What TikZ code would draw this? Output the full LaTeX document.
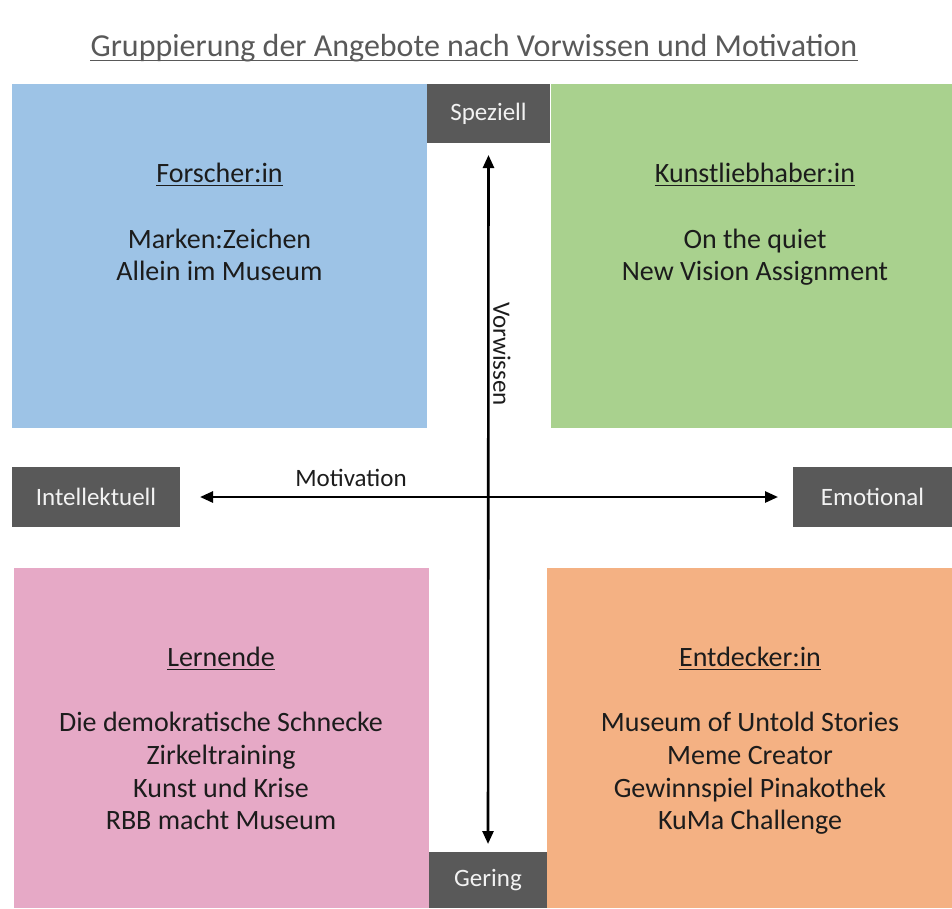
\documentclass[tikz,border=0pt]{standalone}
\usepackage{fontspec}
\setmainfont{Carlito}
\usetikzlibrary{arrows.meta}
\definecolor{qblue}{HTML}{9DC3E6}
\definecolor{qgreen}{HTML}{A9D18E}
\definecolor{qpink}{HTML}{E6A9C6}
\definecolor{qorange}{HTML}{F4B183}
\definecolor{lgray}{HTML}{595959}
\definecolor{ltext}{HTML}{F2F2F2}
\definecolor{btext}{HTML}{1C1C1C}
\begin{document}
\begin{tikzpicture}[x=1pt,y=-1pt,
  quad/.style={draw=none, inner sep=0pt, outer sep=0pt, anchor=north west},
  lab/.style={fill=lgray, text=ltext, font=\fontsize{25}{29}\selectfont, inner sep=0pt, outer sep=0pt, anchor=north west},
  body/.style={font=\fontsize{28}{33}\selectfont, text=btext, anchor=base, inner sep=0pt},
  axislab/.style={font=\fontsize{25}{29}\selectfont, text=btext, inner sep=0pt},
  uline/.style={draw=btext, line width=1.7pt},
  axis/.style={line width=2.6pt, draw=black, {Triangle[length=13pt,width=11pt]}-{Triangle[length=13pt,width=11pt]}}
]
\useasboundingbox (0,0) rectangle (952,908);
% title
\node[font=\fontsize{32}{38}\selectfont, text=lgray, anchor=base, inner sep=0pt] (title) at (474,56) {Gruppierung der Angebote nach Vorwissen und Motivation};
\draw[draw=lgray, line width=1.7pt] ([yshift=-4.5pt]title.base west) -- ([yshift=-4.5pt]title.base east);
% quadrants
\node[quad, fill=qblue, minimum width=415pt, minimum height=344pt] (qf) at (12,84) {};
\node[quad, fill=qgreen, minimum width=401pt, minimum height=344pt] (qk) at (551,84) {};
\node[quad, fill=qpink, minimum width=415pt, minimum height=340pt] (ql) at (14,568) {};
\node[quad, fill=qorange, minimum width=405pt, minimum height=340pt] (qe) at (547,568) {};
% axis labels
\node[lab, minimum width=123pt, minimum height=59pt] (spez) at (427,84) {Speziell};
\node[lab, minimum width=168pt, minimum height=60pt] (intel) at (12,467) {Intellektuell};
\node[lab, minimum width=159pt, minimum height=60pt] (emot) at (793,467) {Emotional};
\node[lab, minimum width=118pt, minimum height=56pt] (ger) at (429,852) {Gering};
% axes
\draw[axis, shorten <=12pt, shorten >=8pt] (spez.south) -- (ger.north);
\draw[axis, shorten <=20pt, shorten >=15pt] (intel.east) -- (emot.west);
\node[axislab, anchor=base] (mot) at (351,486) {Motivation};
\node[axislab, rotate=-90] (vor) at (502,354) {Vorwissen};
% Forscher:in
\node[body] (hf) at (219.5,182) {Forscher:in};
\draw[uline] ([yshift=-3.5pt]hf.base west) -- ([yshift=-3.5pt]hf.base east);
\node[body] (f1) at (219.5,248) {Marken:Zeichen};
\node[body] (f2) at (219.5,280) {Allein im Museum};
% Kunstliebhaber:in
\node[body] (hk) at (755,182) {Kunstliebhaber:in};
\draw[uline] ([yshift=-3.5pt]hk.base west) -- ([yshift=-3.5pt]hk.base east);
\node[body] (k1) at (755,248) {On the quiet};
\node[body] (k2) at (755,280) {New Vision Assignment};
% Lernende
\node[body] (hl) at (221,666) {Lernende};
\draw[uline] ([yshift=-3.5pt]hl.base west) -- ([yshift=-3.5pt]hl.base east);
\node[body] (l1) at (221,731) {Die demokratische Schnecke};
\node[body] (l2) at (221,764) {Zirkeltraining};
\node[body] (l3) at (221,797) {Kunst und Krise};
\node[body] (l4) at (221,829) {RBB macht Museum};
% Entdecker:in
\node[body] (he) at (750,666) {Entdecker:in};
\draw[uline] ([yshift=-3.5pt]he.base west) -- ([yshift=-3.5pt]he.base east);
\node[body] (e1) at (750,731) {Museum of Untold Stories};
\node[body] (e2) at (750,764) {Meme Creator};
\node[body] (e3) at (750,797) {Gewinnspiel Pinakothek};
\node[body] (e4) at (750,829) {KuMa Challenge};
\end{tikzpicture}
\end{document}
